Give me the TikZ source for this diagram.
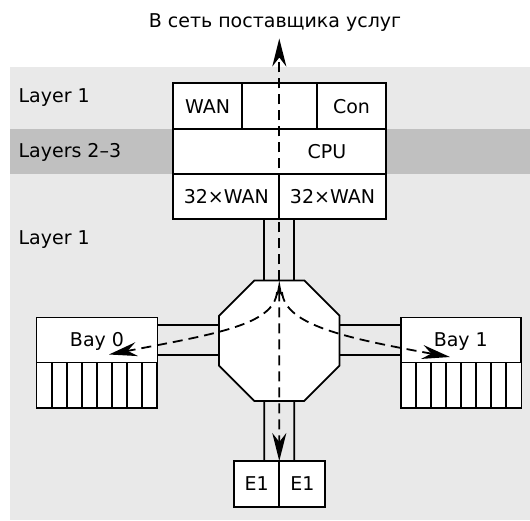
\documentclass[tikz,border=0pt]{standalone}
\usepackage{fontspec}
\setmainfont{DejaVu Sans}
\usetikzlibrary{arrows.meta,shapes.geometric}
\definecolor{layerlight}{HTML}{E9E9E9}
\definecolor{layerdark}{HTML}{C0C0C0}

\begin{document}
\begin{tikzpicture}[x=1pt,y=-1pt,line width=1.8pt,
  font=\fontsize{19pt}{23pt}\selectfont,
  lbl/.style={inner sep=0pt,outer sep=0pt,text height=13.9pt,text depth=0pt},
  cell/.style={lbl,draw,fill=white},
  flow/.style={dash pattern=on 10pt off 6pt,line width=1.8pt},
  >={Stealth[length=28pt,width=14pt,inset=9pt]}]
\useasboundingbox (0,0) rectangle (530,520);

\fill[color=layerlight] (10,67) rectangle (530,520);
\fill[color=layerdark] (10,129.3) rectangle (530,174);

\node[lbl,anchor=base west] (layer1a) at (18.6,102) {Layer 1};
\node[lbl,anchor=base west] (layer23) at (18.6,157.5) {Layers 2–3};
\node[lbl,anchor=base west] (layer1b) at (18.6,244) {Layer 1};

\node[anchor=base] (isp) at (275,27.5) {В сеть поставщика услуг};

% router
\node[cell,minimum width=68.4pt,minimum height=46pt] (wan) at (207.5,106.3) {WAN};
\node[cell,minimum width=75.6pt,minimum height=46pt] (slot) at (279.5,106.3) {};
\node[cell,minimum width=68.4pt,minimum height=46pt] (con) at (351.5,106.3) {Con};
\node[cell,minimum width=212.4pt,minimum height=44.7pt] (cpu) at (279.5,151.65) {};
\node[lbl] (cpulabel) at (327,151.65) {CPU};
\node[cell,minimum width=106pt,minimum height=45pt] (wanl) at (226.3,196.5) {32×WAN};
\node[cell,minimum width=106.4pt,minimum height=45pt] (wanr) at (332.5,196.5) {32×WAN};

% switch
\node[regular polygon,regular polygon sides=8,minimum size=130.4pt,inner sep=0pt,outer sep=0pt] (oct) at (279.3,340.7) {};

\node[cell,minimum width=121pt,minimum height=45pt] (bay0) at (97,340) {Bay 0};
\node[cell,minimum width=120.4pt,minimum height=45pt] (bay1) at (460.8,340) {Bay 1};
\foreach \bx in {36.5,400.6}
  \foreach \i in {0,...,7}
    \draw[fill=white] (\bx+15.1*\i,362.5) rectangle +(15.1,45.5);

\node[cell,minimum width=45.3pt,minimum height=45.7pt] (e1l) at (256.65,483.85) {E1};
\node[cell,minimum width=46pt,minimum height=45.7pt] (e1r) at (302.3,483.85) {E1};

% links
\draw ([xshift=-15pt]wanl.south east) -- ([xshift=-15pt]oct.north);
\draw ([xshift=15pt]wanl.south east) -- ([xshift=15pt]oct.north);
\draw ([xshift=-15pt]oct.south) -- ([xshift=-15pt]e1l.north east);
\draw ([xshift=15pt]oct.south) -- ([xshift=15pt]e1l.north east);
\draw ([yshift=15pt]bay0.east) -- ([yshift=15pt]bay0.east -| oct.west);
\draw ([yshift=-15pt]bay0.east) -- ([yshift=-15pt]bay0.east -| oct.west);
\draw ([yshift=15pt]bay1.west) -- ([yshift=15pt]bay1.west -| oct.east);
\draw ([yshift=-15pt]bay1.west) -- ([yshift=-15pt]bay1.west -| oct.east);

\node[draw,fill=white,regular polygon,regular polygon sides=8,minimum size=130.4pt,inner sep=0pt,outer sep=0pt] at (oct) {};

% traffic
\coordinate (net) at (279.3,38.5);
\coordinate (fork0) at (277,292);
\coordinate (fork1) at (282,292);
\coordinate (tip0) at (109,354.5);
\coordinate (tip1) at (450,357);

\draw[flow,->] (oct.north) -- (net);
\draw[flow,{Stealth[length=16pt,width=6pt,inset=4pt]}->] (oct.north) -- (e1l.north east);
\draw[flow,->] (fork0) .. controls (274,325) and (215,334) .. (tip0);
\draw[flow,->] (fork1) .. controls (285,325) and (345,338) .. (tip1);

\end{tikzpicture}
\end{document}
